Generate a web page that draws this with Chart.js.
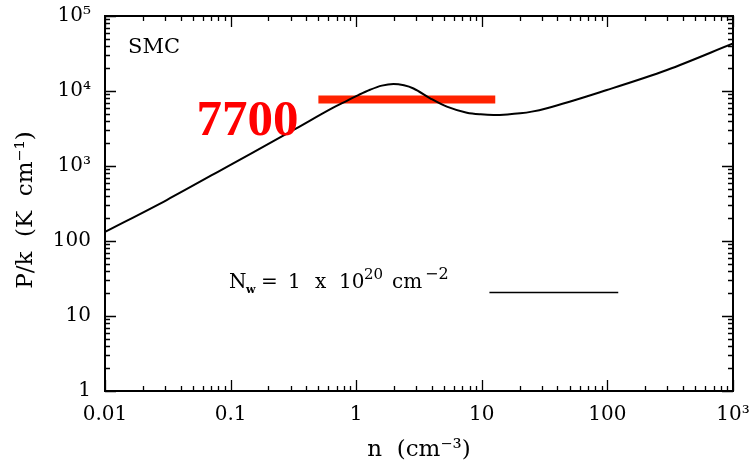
<!DOCTYPE html>
<html>
<head>
<meta charset="utf-8">
<script src="https://cdn.jsdelivr.net/npm/chart.js@4.4.0/dist/chart.umd.min.js"></script>
<style>
  html, body { margin: 0; padding: 0; background: #fff; }
  #wrap { width: 753px; height: 465px; }
</style>
</head>
<body>
<div id="wrap"><canvas id="pressureChart" width="753" height="465"></canvas></div>
<script>
// 热压曲线 P/k - n (SMC), 双对数坐标
const densityN  = [0.01, 0.031, 0.105, 0.317, 0.656, 0.843, 1.05, 1.29, 1.6, 1.98, 2.4, 2.86, 3.88, 5.27, 7.61, 9.8, 12.4, 16, 20.2, 25, 33, 99, 298, 1000];
const pressureP = [132, 352, 1087, 3020, 6000, 7400, 8900, 10400, 11800, 12400, 11900, 10800, 8000, 6180, 5140, 4880, 4790, 4870, 5040, 5310, 5900, 10310, 19050, 43000];

// 红色水平线 (7700)
const redBarN = [0.5, 12.8];
const redBarP = 7700;

// 图例线段 N_w = 1 x 10^20 cm^-2
const legendLineN = [11.5, 122];
const legendLineP = 20.5;

// 坐标刻度
const xTickVals = [0.01, 0.1, 1, 10, 100, 1000];
const xTickLabels = ['0.01', '0.1', '1', '10', '100', '10³'];
const yTickVals = [1, 10, 100, 1000, 10000, 100000];
const yTickLabels = ['1', '10', '100', '10³', '10⁴', '10⁵'];

const SERIF = '"DejaVu Serif", serif';

// 逐段绘制文字, 每段给定起点 x 和基线偏移
function drawParts(ctx, y, parts) {
    parts.forEach(p => {
        ctx.font = p.font;
        ctx.fillText(p.text, p.x, y + (p.dy || 0));
    });
}

// 去掉刻度标签带来的额外留白, 让绘图区位置固定
function noPadding(scale) {
    scale.paddingLeft = 0;
    scale.paddingRight = 0;
    scale.paddingTop = 0;
    scale.paddingBottom = 0;
}

// 边框、四边朝内的刻度以及文字标注
const framePlugin = {
    id: 'frame',
    afterDraw(chart) {
        const { ctx, chartArea: a, scales: { x, y } } = chart;
        ctx.save();
        ctx.strokeStyle = '#000';
        ctx.fillStyle = '#000';

        ctx.lineWidth = 1.3;
        ctx.beginPath();
        for (let e = -2; e < 3; e++) {
            for (let m = 1; m <= 10; m++) {
                const v = m * Math.pow(10, e);
                const px = Math.round(x.getPixelForValue(v)) + 0.5;
                const len = (m === 1 || m === 10) ? 11 : 5;
                ctx.moveTo(px, a.bottom); ctx.lineTo(px, a.bottom - len);
                ctx.moveTo(px, a.top); ctx.lineTo(px, a.top + len);
            }
        }
        for (let e = 0; e < 5; e++) {
            for (let m = 1; m <= 10; m++) {
                const v = m * Math.pow(10, e);
                const py = Math.round(y.getPixelForValue(v)) + 0.5;
                const len = (m === 1 || m === 10) ? 11 : 5;
                ctx.moveTo(a.left, py); ctx.lineTo(a.left + len, py);
                ctx.moveTo(a.right, py); ctx.lineTo(a.right - len, py);
            }
        }
        ctx.stroke();

        ctx.lineWidth = 2;
        ctx.strokeRect(a.left, a.top, a.right - a.left, a.bottom - a.top);

        // 坐标轴标题
        ctx.font = '23px ' + SERIF;
        ctx.textAlign = 'center';
        ctx.textBaseline = 'alphabetic';
        ctx.fillText('n  (cm⁻³)', (a.left + a.right) / 2, 456);
        ctx.save();
        ctx.translate(32, 210);
        ctx.rotate(-Math.PI / 2);
        ctx.fillText('P/k  (K  cm⁻¹)', 0, 0);
        ctx.restore();

        // SMC
        ctx.textAlign = 'left';
        ctx.font = '21px ' + SERIF;
        ctx.fillText('SMC', 128, 53);

        // 7700
        ctx.fillStyle = '#ff0000';
        ctx.textAlign = 'right';
        ctx.font = 'bold 51px "Liberation Serif", serif';
        ctx.fillText('7700', x.getPixelForValue(redBarN[0]) - 20, 135);

        // 图例文字
        ctx.fillStyle = '#000';
        ctx.textAlign = 'left';
        const big = '20px ' + SERIF, sup = '15px ' + SERIF;
        drawParts(ctx, 288, [
            { x: 229, text: 'N', font: big },
            { x: 246, text: 'w', font: 'bold 11px ' + SERIF, dy: 5 },
            { x: 261, text: '=', font: big },
            { x: 288, text: '1', font: big },
            { x: 315, text: 'x', font: big },
            { x: 339, text: '10', font: big },
            { x: 364, text: '20', font: sup, dy: -9 },
            { x: 392, text: 'cm', font: big },
            { x: 425, text: '−2', font: '16px ' + SERIF, dy: -9 }
        ]);
        ctx.restore();
    }
};

const ctx = document.getElementById('pressureChart').getContext('2d');
new Chart(ctx, {
    type: 'line',
    data: {
        datasets: [
            {
                label: 'SMC',
                data: densityN.map((n, i) => ({ x: n, y: pressureP[i] })),
                borderColor: '#000',
                borderWidth: 2,
                pointRadius: 0,
                fill: false,
                cubicInterpolationMode: 'monotone'
            },
            {
                label: '7700',
                data: redBarN.map(n => ({ x: n, y: redBarP })),
                borderColor: '#ff2200',
                borderWidth: 8,
                borderCapStyle: 'butt',
                pointRadius: 0,
                fill: false
            },
            {
                label: 'Nw',
                data: legendLineN.map(n => ({ x: n, y: legendLineP })),
                borderColor: '#000',
                borderWidth: 1.5,
                pointRadius: 0,
                fill: false
            }
        ]
    },
    options: {
        responsive: false,
        animation: false,
        devicePixelRatio: 1,
        layout: { padding: { top: 16, right: 20, left: 0, bottom: 0 } },
        plugins: {
            legend: { display: false },
            tooltip: { enabled: false },
            title: { display: false }
        },
        scales: {
            x: {
                type: 'logarithmic',
                min: 0.01,
                max: 1000,
                grid: { display: false, drawTicks: false },
                border: { display: false },
                afterBuildTicks: scale => { scale.ticks = xTickVals.map(v => ({ value: v })); },
                afterFit: scale => { scale.height = 74; noPadding(scale); },
                ticks: {
                    autoSkip: false,
                    maxRotation: 0,
                    padding: 12,
                    color: '#000',
                    font: { family: SERIF, size: 20 },
                    callback: (v, i) => xTickLabels[i]
                }
            },
            y: {
                type: 'logarithmic',
                min: 1,
                max: 100000,
                grid: { display: false, drawTicks: false },
                border: { display: false },
                afterBuildTicks: scale => { scale.ticks = yTickVals.map(v => ({ value: v })); },
                afterFit: scale => { scale.width = 105; noPadding(scale); },
                ticks: {
                    autoSkip: false,
                    padding: 14,
                    color: '#000',
                    font: { family: SERIF, size: 20 },
                    callback: (v, i) => yTickLabels[i]
                }
            }
        }
    },
    plugins: [framePlugin]
});
</script>
</body>
</html>
